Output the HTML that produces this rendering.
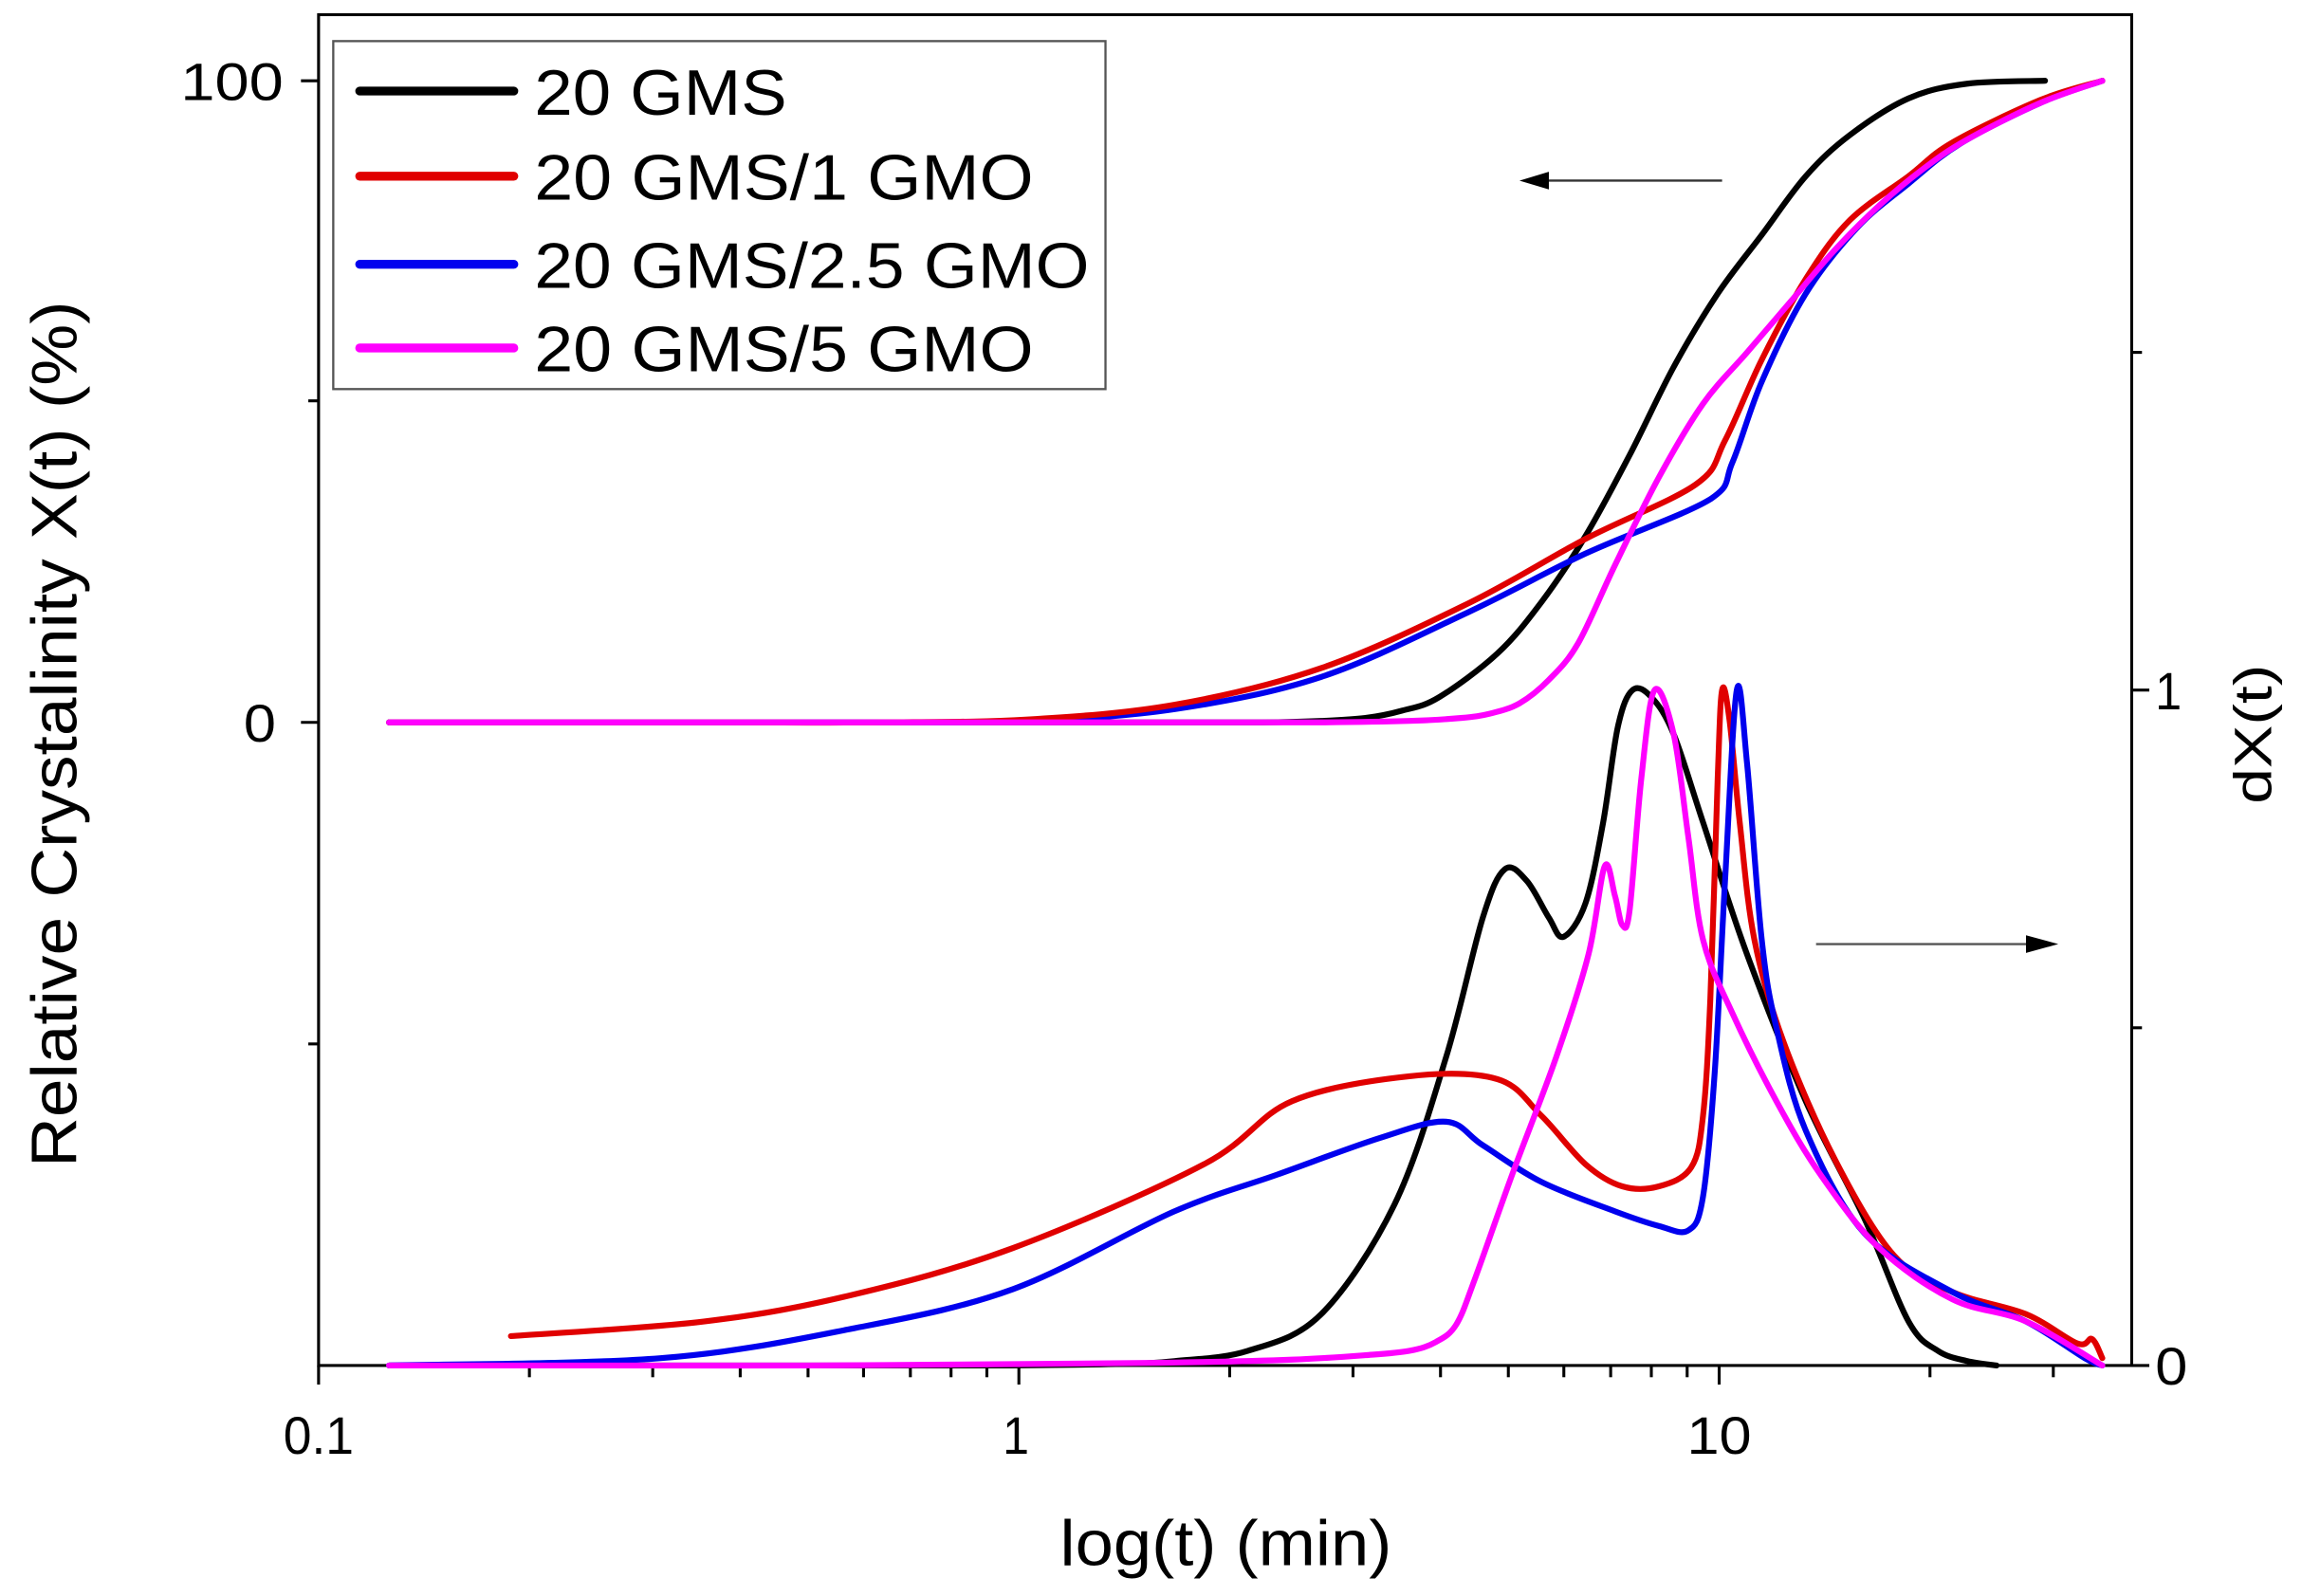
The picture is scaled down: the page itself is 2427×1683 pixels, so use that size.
<!DOCTYPE html>
<html><head><meta charset="utf-8"><style>html,body{margin:0;padding:0;background:#fff}svg{display:block}</style></head>
<body>
<svg width="2427" height="1683" viewBox="0 0 1568 1087" preserveAspectRatio="none" xmlns="http://www.w3.org/2000/svg" font-family="Liberation Sans, Arial, sans-serif">
<rect width="1568" height="1087" fill="#fff"/>
<g stroke="#000" stroke-width="2" fill="none">
<rect x="217" y="10" width="1235" height="920"/>
<line x1="205" y1="55" x2="217" y2="55"/><line x1="205" y1="492" x2="217" y2="492"/>
<line x1="210" y1="273" x2="217" y2="273"/><line x1="210" y1="711" x2="217" y2="711"/>
<line x1="1452" y1="930" x2="1464" y2="930"/><line x1="1452" y1="470" x2="1464" y2="470"/>
<line x1="1452" y1="700" x2="1459" y2="700"/><line x1="1452" y1="240" x2="1459" y2="240"/>
<line x1="217" y1="930" x2="217" y2="943"/><line x1="694" y1="930" x2="694" y2="943"/><line x1="1171" y1="930" x2="1171" y2="943"/>
<g id="mt">
<line x1="360.6" y1="930" x2="360.6" y2="938"/><line x1="444.6" y1="930" x2="444.6" y2="938"/><line x1="504.2" y1="930" x2="504.2" y2="938"/>
<line x1="550.4" y1="930" x2="550.4" y2="938"/><line x1="588.2" y1="930" x2="588.2" y2="938"/><line x1="620.1" y1="930" x2="620.1" y2="938"/>
<line x1="647.8" y1="930" x2="647.8" y2="938"/><line x1="672.2" y1="930" x2="672.2" y2="938"/>
</g>
<use href="#mt" transform="translate(477,0)"/>
<line x1="1314.6" y1="930" x2="1314.6" y2="938"/><line x1="1398.6" y1="930" x2="1398.6" y2="938"/>
</g>
<g font-size="36" fill="#000">
<text x="193" y="68" text-anchor="end" textLength="70" lengthAdjust="spacingAndGlyphs">100</text>
<text x="188" y="505" text-anchor="end" textLength="22" lengthAdjust="spacingAndGlyphs">0</text>
<text x="1468" y="483" textLength="18" lengthAdjust="spacingAndGlyphs">1</text>
<text x="1468" y="943" textLength="22" lengthAdjust="spacingAndGlyphs">0</text>
<text x="217" y="990" text-anchor="middle" textLength="48" lengthAdjust="spacingAndGlyphs">0.1</text>
<text x="692" y="990" text-anchor="middle" textLength="18" lengthAdjust="spacingAndGlyphs">1</text>
<text x="1171" y="990" text-anchor="middle" textLength="44" lengthAdjust="spacingAndGlyphs">10</text>
</g>
<text x="835" y="1066" text-anchor="middle" font-size="44" textLength="226" lengthAdjust="spacingAndGlyphs">log(t) (min)</text>
<text transform="translate(52,500) rotate(-90)" text-anchor="middle" font-size="44" textLength="590" lengthAdjust="spacingAndGlyphs">Relative Crystalinity X(t) (%)</text>
<text transform="translate(1547,500) rotate(-90)" text-anchor="middle" font-size="36" textLength="95" lengthAdjust="spacingAndGlyphs">dX(t)</text>
<line x1="1173" y1="123" x2="1045" y2="123" stroke="#333" stroke-width="1.5"/>
<polygon points="1035,123 1055,117 1055,129" fill="#000"/>
<line x1="1237" y1="643" x2="1385" y2="643" stroke="#555" stroke-width="1.5"/>
<polygon points="1402,643 1380,637 1380,649" fill="#000"/>
<g fill="none" stroke-width="4" stroke-linejoin="round" stroke-linecap="round">
<polyline class="s" stroke="#000" points="265,492 400,492 550,492 700,492 800,492 860,492 900,491 930,489 955,484 980,475 1020,445 1050,410 1080,365 1110,310 1140,250 1170,200 1200,160 1230,120 1260,92 1300,67 1340,57 1393,55"/>
<polyline class="s" stroke="#0000ee" points="265,492 400,492 500,492 600,492 700,491 800,483 900,461 1000,417 1080,377 1165,340 1180,315 1200,260 1230,200 1265,155 1300,125 1335,98 1390,70 1432,55"/>
<polyline class="s" stroke="#e00000" points="265,492 400,492 500,492 600,492 700,490 800,480 900,455 1000,411 1080,367 1155,330 1175,300 1200,245 1230,190 1260,150 1300,120 1330,97 1390,68 1432,55"/>
<polyline class="s" stroke="#ff00ff" points="265,492 400,492 550,492 700,492 820,492 900,492 960,491 995,489 1015,486 1035,479 1055,463 1075,438 1100,385 1130,325 1160,275 1190,240 1220,205 1250,170 1280,140 1310,115 1340,95 1390,70 1432,55"/>
<polyline class="s" stroke="#000" points="265,930 400,930 550,930 680,930 760,929 800,927 850,920 900,895 950,820 985,720 1010,625 1025,592 1040,600 1055,625 1065,638 1080,615 1092,560 1102,495 1112,470 1125,475 1140,500 1160,560 1190,650 1230,750 1270,830 1300,900 1320,920 1340,927 1360,930"/>
<polyline class="s" stroke="#e00000" points="348,910 480,900 580,882 690,850 820,793 880,750 960,733 1020,735 1050,760 1080,793 1105,808 1130,808 1152,795 1160,760 1165,680 1170,530 1173,470 1178,490 1185,560 1195,640 1215,710 1250,790 1290,855 1330,880 1380,895 1415,915 1425,912 1432,925"/>
<polyline class="s" stroke="#0000ee" points="265,930 450,925 580,905 690,878 800,825 870,800 940,775 985,764 1010,780 1050,805 1100,825 1130,835 1150,838 1160,815 1168,730 1175,600 1183,470 1190,520 1200,640 1210,700 1230,770 1270,840 1330,880 1380,900 1420,925 1432,930"/>
<polyline class="s" stroke="#ff00ff" points="265,930 400,930 550,930 700,929 800,928 880,926 930,923 960,920 978,914 992,902 1005,870 1030,800 1060,720 1082,650 1093,590 1100,610 1105,630 1110,620 1118,530 1127,470 1140,500 1150,570 1160,640 1180,690 1210,750 1240,800 1280,850 1330,885 1380,900 1432,930"/>
</g>
<rect x="227" y="28" width="526" height="237" fill="#fff" stroke="#555" stroke-width="1.5"/>
<g stroke-width="6" stroke-linecap="round">
<line x1="245" y1="62" x2="350" y2="62" stroke="#000"/>
<line x1="245" y1="120" x2="350" y2="120" stroke="#e00000"/>
<line x1="245" y1="180" x2="350" y2="180" stroke="#0000ee"/>
<line x1="245" y1="237" x2="350" y2="237" stroke="#ff00ff"/>
</g>
<g font-size="44" fill="#000">
<text x="364" y="78" textLength="172" lengthAdjust="spacingAndGlyphs">20 GMS</text>
<text x="364" y="136" textLength="340" lengthAdjust="spacingAndGlyphs">20 GMS/1 GMO</text>
<text x="364" y="196" textLength="378" lengthAdjust="spacingAndGlyphs">20 GMS/2.5 GMO</text>
<text x="364" y="253" textLength="340" lengthAdjust="spacingAndGlyphs">20 GMS/5 GMO</text>
</g>
</svg>
<script>
document.querySelectorAll('polyline.s').forEach(function(pl){
  var p=pl.getAttribute('points').trim().split(/\s+/).map(function(s){return s.split(',').map(Number);});
  if(p.length<3)return;
  var d='M'+p[0][0]+','+p[0][1];
  for(var i=0;i<p.length-1;i++){
    var p0=p[i-1]||p[i],p1=p[i],p2=p[i+1],p3=p[i+2]||p2;
    var c1x=p1[0]+(p2[0]-p0[0])/6,c1y=p1[1]+(p2[1]-p0[1])/6;
    var c2x=p2[0]-(p3[0]-p1[0])/6,c2y=p2[1]-(p3[1]-p1[1])/6;
    c1x=Math.max(Math.min(c1x,p2[0]),p1[0]);c2x=Math.max(Math.min(c2x,p2[0]),p1[0]);
    d+=' C'+c1x+','+c1y+' '+c2x+','+c2y+' '+p2[0]+','+p2[1];
  }
  var path=document.createElementNS('http://www.w3.org/2000/svg','path');
  path.setAttribute('d',d);path.setAttribute('stroke',pl.getAttribute('stroke'));
  pl.parentNode.replaceChild(path,pl);
});
</script>
</body></html>
